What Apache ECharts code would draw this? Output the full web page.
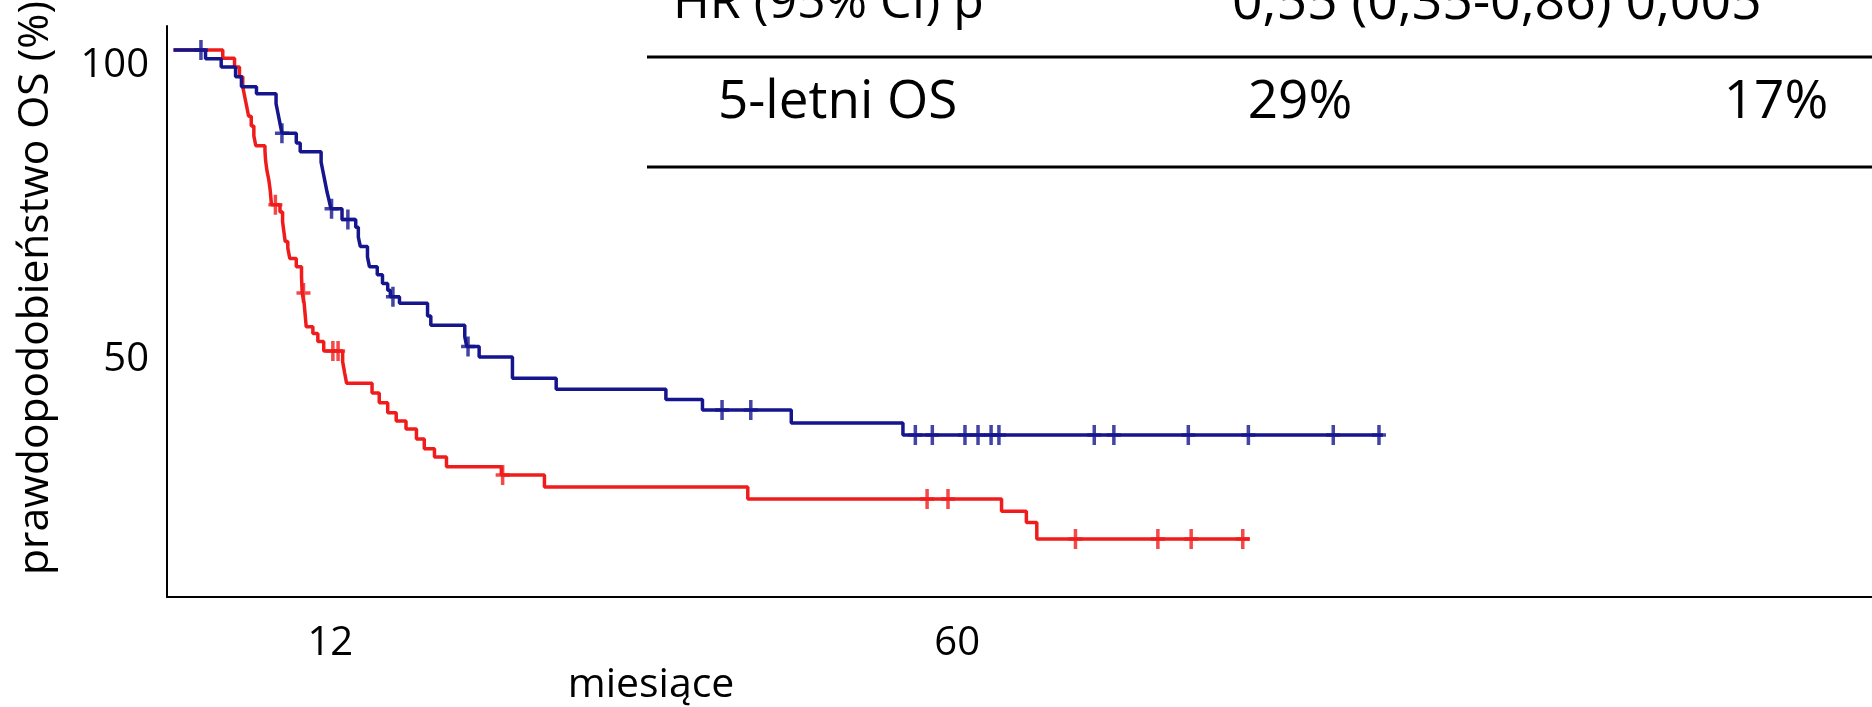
<!DOCTYPE html>
<html>
<head>
<meta charset="utf-8">
<script src="https://cdn.jsdelivr.net/npm/echarts@6/dist/echarts.min.js"></script>
<style>
html,body{margin:0;padding:0;background:#fff;}
#chart{width:1872px;height:707px;}
</style>
</head>
<body>
<div id="chart"></div>
<script>
// ---- data (months, survival %) ----
const redT = [0, 3.77, 4.67, 5.05, 5.3, 5.45, 5.6, 5.75, 5.95, 6.15, 6.3, 7.0, 7.05, 7.15, 7.3, 7.4, 7.5, 8.15, 8.35, 8.45, 8.55, 8.75, 8.9, 9.4, 9.8, 9.85, 10.0, 10.08, 10.16, 10.67, 11.05, 11.5, 12.95, 13.1, 13.25, 15.2, 15.75, 16.4, 17.05, 17.8, 18.6, 19.2, 19.98, 20.9, 25.1, 28.4, 43.97, 63.4, 65.3, 66.1, 82.4];
const redS = [100, 98.5, 96.9, 95.1, 93.3, 91.5, 89.7, 87.9, 86.1, 84.3, 82.5, 81.6, 79.8, 78.0, 76.2, 74.4, 71.7, 70.4, 68.6, 66.8, 65.0, 63.8, 61.9, 60.4, 58.5, 55.6, 53.7, 51.6, 49.4, 48.2, 46.7, 45.0, 43.0, 41.0, 39.1, 37.3, 35.5, 33.7, 32.2, 30.7, 28.9, 27.1, 25.6, 23.8, 22.3, 20.1, 17.9, 15.7, 13.6, 10.6, 10.6];
const redCensorT = [7.8, 9.95, 12.2, 12.6, 25.2, 57.7, 59.3, 69.06, 75.37, 77.92, 81.87];
const redCensorS = [71.7, 55.6, 45.0, 45.0, 22.3, 17.9, 17.9, 10.6, 10.6, 10.6, 10.6];

const blueT = [0, 2.45, 3.65, 4.75, 5.2, 6.35, 7.85, 8.0, 8.15, 8.3, 9.4, 9.7, 11.3, 11.45, 11.6, 11.75, 11.9, 12.05, 12.9, 13.95, 14.15, 14.3, 14.85, 15.0, 15.6, 16.0, 16.4, 16.6, 17.3, 19.45, 19.7, 22.3, 22.45, 23.4, 25.95, 29.3, 37.7, 40.5, 47.3, 55.85, 92.6];
const blueS = [100, 98.4, 96.9, 95.1, 93.3, 92.0, 90.2, 88.4, 86.6, 84.8, 83.0, 81.4, 79.5, 77.7, 75.9, 74.1, 72.6, 71.0, 69.0, 67.6, 65.8, 64.1, 62.2, 60.4, 58.9, 57.3, 56.1, 54.9, 53.7, 51.4, 49.7, 47.6, 45.8, 43.9, 40.0, 38.0, 36.1, 34.2, 31.8, 29.6, 29.6];
const blueCensorT = [2.1, 8.3, 12.1, 13.35, 16.8, 22.55, 42.0, 44.2, 56.8, 58.1, 60.6, 61.6, 62.6, 63.2, 70.5, 72.0, 77.7, 82.3, 88.8, 92.3];
const blueCensorS = [100, 84.8, 71.0, 69.0, 54.9, 45.8, 34.2, 34.2, 29.6, 29.6, 29.6, 29.6, 29.6, 29.6, 29.6, 29.6, 29.6, 29.6, 29.6, 29.6];

const xTickLabels = [12, 60];
const yTickLabels = [50, 100];
const xTitle = 'miesiące';
const yTitle = 'prawdopodobieństwo OS (%)';
const tableRow1 = ['HR (95% CI) p', '0,55 (0,35-0,86) 0,005'];
const tableRow2 = ['5-letni OS', '29%', '17%'];

// ---- chart ----
const FONT = "'Open Sans', 'Noto Sans', sans-serif";
const RED = '#f01c1c';
const BLUE = '#15158e';
const CROSS = 'path://M5.25,0H8.75V8.25H14V11.75H8.75V20H5.25V11.75H0V8.25H5.25Z';

const zip = (a, b) => a.map((v, i) => [v, b[i]]);

const chart = echarts.init(document.getElementById('chart'), null, {renderer: 'canvas'});

function txt(text, x, y, size, align, vAlign, rotation) {
  return {
    type: 'text', x: x, y: y, rotation: rotation || 0, silent: true,
    style: {
      text: text, fill: '#000', font: size + 'px ' + FONT,
      align: align, verticalAlign: vAlign,
      textAlign: align, textVerticalAlign: vAlign
    }
  };
}
function hline(x1, x2, y, w) {
  return { type: 'line', silent: true, shape: {x1: x1, y1: y, x2: x2, y2: y}, style: {stroke: '#000', lineWidth: w} };
}

const option = {
  animation: false,
  backgroundColor: '#fff',
  grid: { left: 167, top: 26, right: 0, bottom: 110, containLabel: false },
  xAxis: {
    type: 'value', min: -0.5, max: 130.05,
    axisLine: { show: true, onZero: false, lineStyle: { color: '#000', width: 2 } },
    axisTick: { show: false },
    splitLine: { show: false },
    axisLabel: { customValues: xTickLabels, fontSize: 40, fontFamily: FONT, color: '#000', margin: 27 }
  },
  yAxis: [
    {
      type: 'value', min: 0, max: 104.4,
      axisLine: { show: true, onZero: false, lineStyle: { color: '#000', width: 2 } },
      axisTick: { show: false }, splitLine: { show: false }, axisLabel: { show: false }
    },
    {
      type: 'value', min: 9.73, max: 106.74, position: 'left', offset: 0,
      axisLine: { show: false }, axisTick: { show: false }, splitLine: { show: false },
      axisLabel: { customValues: yTickLabels, fontSize: 40, fontFamily: FONT, color: '#000', margin: 18 }
    }
  ],
  series: [
    { type: 'line', step: 'end', data: zip(redT, redS), showSymbol: false, symbol: 'none',
      lineStyle: { color: RED, width: 3.5 }, itemStyle: { color: RED }, z: 2, silent: true },
    { type: 'scatter', data: zip(redCensorT, redCensorS), symbol: CROSS, symbolSize: [14, 20],
      itemStyle: { color: RED }, z: 3, silent: true },
    { type: 'line', step: 'end', data: zip(blueT, blueS), showSymbol: false, symbol: 'none',
      lineStyle: { color: BLUE, width: 3.5 }, itemStyle: { color: BLUE }, z: 4, silent: true },
    { type: 'scatter', data: zip(blueCensorT, blueCensorS), symbol: CROSS, symbolSize: [14, 20],
      itemStyle: { color: BLUE }, z: 5, silent: true }
  ],
  graphic: [
    txt(yTitle, 36, 288, 42.5, 'center', 'middle', Math.PI / 2),
    txt(xTitle, 651, 685, 41, 'center', 'middle'),
    hline(647, 1872, 57, 3),
    hline(647, 1872, 167, 3),
    txt(tableRow1[0], 673, 4, 50, 'left', 'middle'),
    txt(tableRow1[1], 1232, 4, 53.5, 'left', 'middle'),
    txt(tableRow2[0], 718, 103, 53, 'left', 'middle'),
    txt(tableRow2[1], 1300, 103, 53, 'center', 'middle'),
    txt(tableRow2[2], 1776, 103, 53, 'center', 'middle')
  ]
};
chart.setOption(option);
</script>
</body>
</html>
